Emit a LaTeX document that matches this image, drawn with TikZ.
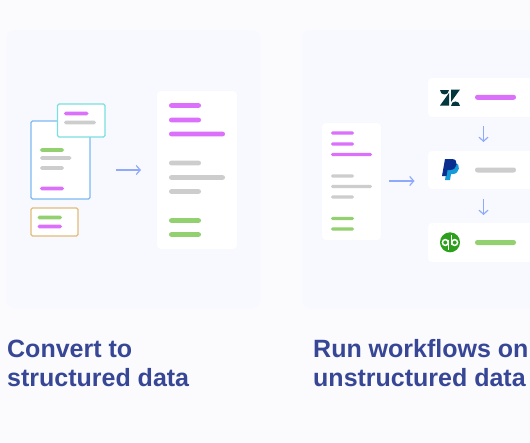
\documentclass[tikz,border=0pt]{standalone}
\usepackage{fontspec}
\setmainfont{Liberation Sans}
\usetikzlibrary{arrows.meta}
\definecolor{bgc}{HTML}{FBFBFE}
\definecolor{panelc}{HTML}{F8F9FF}
\definecolor{mag}{HTML}{DB70FB}
\definecolor{gry}{HTML}{CDCDCD}
\definecolor{grn}{HTML}{92D070}
\definecolor{arr}{HTML}{8FAAFA}
\definecolor{ttl}{HTML}{374796}
\definecolor{zd}{HTML}{03363D}
\definecolor{qb}{HTML}{2CA01C}
\definecolor{docblue}{HTML}{7DB9F2}
\definecolor{docteal}{HTML}{7ADFE0}
\definecolor{docorange}{HTML}{E2BC78}
\definecolor{ppdark}{HTML}{0A2F8F}
\definecolor{pplight}{HTML}{169BD9}
\newcommand{\pillbar}[5]{\fill[#1,rounded corners=#5*0.48pt] (#2,#4-#5/2) rectangle (#3,#4+#5/2);}
\tikzset{
  x=1pt,y=-1pt,
  panel/.style={fill=panelc,rounded corners=8pt},
  whitecard/.style={fill=white,rounded corners=4pt},
  doc/.style={fill=white,rounded corners=1.5pt,line width=1.4pt},
  flow/.style={draw=arr,line width=1.2pt,-{Straight Barb[length=4pt,width=9pt,line width=1.2pt]}},
  ttlnode/.style={anchor=base west,inner sep=0pt,text=ttl,font=\fontsize{25}{25}\selectfont\bfseries},
}
\begin{document}
\begin{tikzpicture}
\useasboundingbox[fill=bgc] (0,0) rectangle (530,442);
\fill[panel] (7,30) rectangle (260,308);
\fill[panel] (302,30) rectangle (560,308);
% left documents
\draw[doc,draw=docblue] (31,121) rectangle (90,199);
\draw[doc,draw=docteal] (57.5,104) rectangle (105,137);
\draw[doc,draw=docorange] (31,208) rectangle (78,236);
\pillbar{grn}{40}{64}{150}{3.6}
\pillbar{gry}{40}{71.5}{158}{3.6}
\pillbar{gry}{40}{64}{168}{3.6}
\pillbar{mag}{40}{64}{188.5}{3.6}
\pillbar{mag}{64}{88.5}{113.5}{3.6}
\pillbar{gry}{64}{96}{122.5}{3.6}
\pillbar{grn}{37.5}{62}{217.5}{3.6}
\pillbar{mag}{37.5}{62}{226.5}{3.6}
\coordinate (a1s) at (116,170);
\coordinate (a1e) at (141,170);
\draw[flow] (a1s) -- (a1e);
% structured card
\fill[whitecard] (157,91) rectangle (237,249);
\foreach \y in {105.5,120}{\pillbar{mag}{169}{201}{\y}{4.6}}
\pillbar{mag}{169}{225}{134}{4.6}
\pillbar{gry}{169}{201}{163}{4.6}
\pillbar{gry}{169}{225}{177.5}{4.6}
\pillbar{gry}{169}{201}{191.5}{4.6}
\foreach \y in {220.5,234.5}{\pillbar{grn}{169}{201}{\y}{4.6}}
% right panel card
\fill[whitecard] (322,123) rectangle (381,240);
\foreach \y in {133,144}{\pillbar{mag}{331}{354}{\y}{3.4}}
\pillbar{mag}{331}{372}{154.5}{3.4}
\pillbar{gry}{331}{354}{176}{3.4}
\pillbar{gry}{331}{372}{186.5}{3.4}
\pillbar{gry}{331}{354}{197}{3.4}
\foreach \y in {218.5,229}{\pillbar{grn}{331}{354}{\y}{3.4}}
\coordinate (a2s) at (389,181);
\coordinate (a2e) at (414.5,181);
\draw[flow] (a2s) -- (a2e);
% app cards
\fill[whitecard] (428,78) rectangle (560,117);
\fill[whitecard] (428,151) rectangle (560,189);
\fill[whitecard] (428,223) rectangle (560,262);
\coordinate (a3s) at (483.5,126);
\coordinate (a3e) at (483.5,142);
\coordinate (a4s) at (483.5,199);
\coordinate (a4e) at (483.5,215);
\draw[flow] (a3s) -- (a3e);
\draw[flow] (a4s) -- (a4e);
\pillbar{mag}{475}{516}{97.3}{5}
\pillbar{gry}{475}{516}{170}{5}
\pillbar{grn}{475}{516}{242.5}{5}
% zendesk
\fill[zd] (449,93) -- (449,105.5) -- (440,105.5) -- cycle;
\fill[zd] (451,102) -- (451,89.5) -- (460,89.5) -- cycle;
\fill[zd] (440,89.5) .. controls (440,95.5) and (449,95.5) .. (449,89.5) -- cycle;
\fill[zd] (451,105.5) .. controls (451,99.5) and (460,99.5) .. (460,105.5) -- cycle;
% paypal
\fill[pplight] (445,180) -- (448,163) -- (455,163) .. controls (461,163) and (460,174) .. (453,174) -- (451,174) -- (450,180) -- cycle;
\fill[ppdark] (442,176) -- (445,159) -- (452,159) .. controls (459,159) and (458,170) .. (450,170) -- (447.5,170) -- (446.5,176) -- cycle;
% quickbooks
\fill[qb] (450,242.3) circle[radius=10];
\draw[white,line width=1.5pt] (445.3,242.5) circle[radius=2.9];
\draw[white,line width=1.5pt] (454.7,242.5) circle[radius=2.9];
\draw[white,line width=1.5pt] (448.6,239.6) -- (448.6,250);
\draw[white,line width=1.5pt] (451.4,235) -- (451.4,245.4);
% titles
\node[ttlnode] (t1) at (7,357) {Convert to};
\node[ttlnode] (t2) at (7,386.5) {structured data};
\node[ttlnode] (t3) at (313,357) {Run workflows on};
\node[ttlnode] (t4) at (313,386.5) {unstructured data};
\end{tikzpicture}
\end{document}
